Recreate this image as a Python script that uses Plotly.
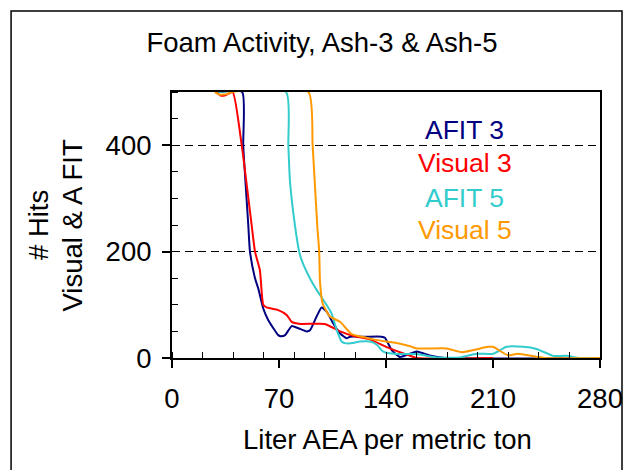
import plotly.graph_objects as go

# ---- data ----
afit3_x = [30, 45.9, 46.6, 48.2, 49.9, 51, 54.3, 56.4, 59.7, 63, 66.3, 69.5, 71.1, 74, 78.3, 82.6,
           88.1, 90.3, 94.6, 97.9, 101.2, 105.5, 110, 114.3, 116.4, 127, 137.1, 139.3, 143.7,
           149.1, 155.7, 160, 163, 170, 178.5, 280]
afit3_y = [500, 500, 400, 325, 250, 200, 150, 131, 93, 71, 56, 43, 41, 43, 60, 56,
           50, 52, 78, 95, 87, 65, 46, 37, 40, 40, 40, 38, 15,
           2, 8, 12, 10, 4, 0, 0]

visual3_x = [28.8, 32, 35, 39.7, 45.6, 52.1, 54.3, 57.5, 59.7, 61.9, 69.5, 75, 78.3, 84, 100,
             110, 118, 121, 129.5, 140, 149, 155, 160, 210]
visual3_y = [500, 493, 494, 500, 400, 250, 200, 165, 100, 95, 90, 81, 68, 64, 64,
             50, 42, 40, 35, 21, 11, 5, 0, 0]

afit5_x = [30, 74.6, 76.1, 77.2, 80.4, 83.2, 84.8, 90.2, 94.6, 99, 104.4, 107.7, 111, 113, 118.4,
           122.9, 129.5, 134, 138.2, 147, 160, 173.1, 188.4, 199.3, 210.1, 218.9, 229.8, 238.5,
           249.4, 258.1, 266.8, 280]
afit5_y = [500, 500, 400, 331, 250, 200, 184, 150, 128, 109, 84, 53, 31, 28, 28,
           31, 31, 25, 12, 7.5, 7.5, 1, 1, 8, 8, 21, 21, 17,
           4, 4, 0, 0]

visual5_x = [28, 31, 36, 39, 89.2, 92, 95, 96.3, 96.8, 98.5, 103.3, 109.9, 117.5, 127.3, 131.7,
             142.6, 147, 155.7, 160, 179.7, 189.5, 206.7, 210, 219.8, 226.3, 243.9, 280]
visual5_y = [500, 495, 496, 500, 500, 400, 250, 200, 145, 103, 78, 68, 45, 38, 35,
             30, 28, 22, 18, 18, 11, 21, 21, 5, 8, 0, 0]

series_names = ["AFIT 3", "Visual 3", "AFIT 5", "Visual 5"]
series_colors = ["#000080", "#FF0000", "#33CCCC", "#FF9900"]
x_ticks = [0, 70, 140, 210, 280]
y_ticks = [0, 200, 400]

FONT = "Liberation Sans, Arial, sans-serif"
FS = 27.5

fig = go.Figure()
for xs, ys, name, col in zip([afit3_x, visual3_x, afit5_x, visual5_x],
                             [afit3_y, visual3_y, afit5_y, visual5_y],
                             series_names, series_colors):
    fig.add_trace(go.Scatter(x=xs, y=ys, mode="lines", name=name,
                             line=dict(color=col, width=2, shape="spline", smoothing=0.5)))

# legend as coloured text labels
legend_y = [428, 366, 301, 241]
for name, col, ly in zip(series_names, series_colors, legend_y):
    fig.add_annotation(x=191.5, y=ly, xref="x", yref="y", text=name, showarrow=False,
                       font=dict(family=FONT, size=26.5, color=col), xanchor="center", yanchor="middle")

# axis titles
fig.add_annotation(x=0.5035, y=-0.308, xref="paper", yref="paper", text="Liter AEA per metric ton",
                   showarrow=False, font=dict(family=FONT, size=FS, color="black"),
                   xanchor="center", yanchor="middle")
fig.add_annotation(x=-0.313, y=0.5, xref="paper", yref="paper", text="# Hits",
                   showarrow=False, textangle=-90, font=dict(family=FONT, size=FS, color="black"),
                   xanchor="center", yanchor="middle")
fig.add_annotation(x=-0.2325, y=0.5, xref="paper", yref="paper", text="Visual & A FIT",
                   showarrow=False, textangle=-90, font=dict(family=FONT, size=FS, color="black"),
                   xanchor="center", yanchor="middle")

# outer border
fig.add_shape(type="rect", xref="paper", yref="paper", x0=-0.376, x1=1.0514, y0=-0.46, y1=1.3045,
              line=dict(color="black", width=1.5), fillcolor="rgba(0,0,0,0)")

fig.update_layout(
    width=631, height=470,
    margin=dict(l=164, r=39, t=84, b=120),
    paper_bgcolor="white", plot_bgcolor="white",
    showlegend=False,
    title=dict(text="Foam Activity, Ash-3 & Ash-5", x=314 / 631, xanchor="center",
               y=1 - 34 / 470, yanchor="middle", yref="container",
               font=dict(family=FONT, size=FS, color="black")),
    font=dict(family=FONT, size=FS, color="black"),
)
fig.update_xaxes(range=[0, 280], tickvals=x_ticks, ticks="outside", ticklen=8, tickwidth=1.5,
                 tickcolor="black", showline=True, linecolor="black", linewidth=2, mirror=True,
                 showgrid=False, zeroline=False, ticklabelstandoff=7,
                 tickfont=dict(family=FONT, size=FS, color="black"),
                 minor=dict(dtick=20, tick0=0, ticks="inside", ticklen=6, tickcolor="black",
                            tickwidth=1, showgrid=False))
fig.update_yaxes(range=[0, 500], tickvals=y_ticks, ticks="outside", ticklen=8, tickwidth=1.5,
                 tickcolor="black", showline=True, linecolor="black", linewidth=2, mirror=True,
                 showgrid=True, gridcolor="black", gridwidth=1, griddash="8px,5px",
                 zeroline=False, ticklabelstandoff=5,
                 tickfont=dict(family=FONT, size=FS, color="black"),
                 minor=dict(dtick=50, tick0=0, ticks="inside", ticklen=6, tickcolor="black",
                            tickwidth=1, showgrid=False))

fig.write_html("out.html")
